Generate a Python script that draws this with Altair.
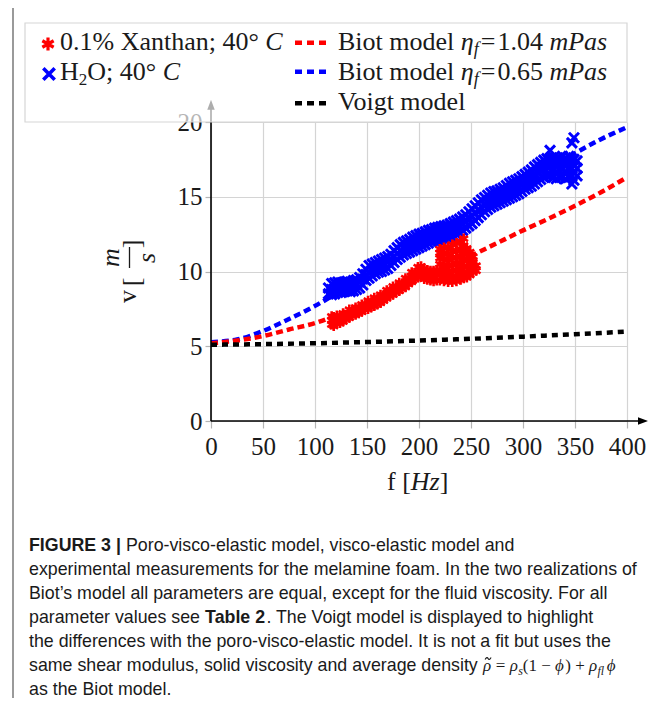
import altair as alt
import pandas as pd

# ---------------- data ----------------
model_f = [0, 25, 50, 75, 100, 125, 150, 175, 200, 225, 250, 275, 300, 325, 350, 375, 400]
biot_104 = [5.2, 5.38, 5.68, 6.12, 6.55, 7.2, 7.9, 8.65, 9.45, 10.25, 11.05, 11.9, 12.75, 13.55, 14.4, 15.3, 16.3]
biot_065 = [5.27, 5.45, 6.02, 6.82, 7.7, 8.7, 9.7, 10.7, 11.7, 12.7, 13.7, 14.7, 15.7, 16.75, 17.9, 18.85, 19.65]
voigt = [5.1, 5.12, 5.14, 5.17, 5.2, 5.24, 5.28, 5.33, 5.38, 5.44, 5.5, 5.57, 5.64, 5.72, 5.8, 5.89, 5.98]

# measurements: (f [Hz], [v values at that f])
xanthan_groups = [
    (116, [6.45, 6.75, 7.0]), (118, [6.35, 6.65, 6.95]), (121, [6.5, 6.8, 7.05]),
    (124, [6.55, 6.9]), (127, [6.65, 7.0, 7.2]), (130, [6.8, 7.1]),
    (133, [6.9, 7.2, 7.45]), (136, [7.05, 7.35]), (139, [7.1, 7.45, 7.6]),
    (142, [7.2, 7.55]), (145, [7.3, 7.6, 7.8]), (148, [7.45, 7.75]),
    (151, [7.5, 7.85, 8.05]), (154, [7.6, 7.95]), (157, [7.7, 8.0, 8.25]),
    (160, [7.8, 8.15]), (163, [7.9, 8.25, 8.45]), (166, [8.05, 8.4]),
    (169, [8.2, 8.55, 8.75]), (172, [8.35, 8.65]), (175, [8.45, 8.8, 9.0]),
    (178, [8.6, 8.95]), (181, [8.7, 9.05, 9.25]), (184, [8.85, 9.2]),
    (187, [8.95, 9.3, 9.55]), (190, [9.15, 9.55]), (193, [9.3, 9.7, 9.95]),
    (196, [9.5, 9.9]), (199, [9.6, 9.95, 10.3]), (202, [9.65, 10.05, 10.35]),
    (205, [9.5, 9.9, 10.2]), (208, [9.45, 9.8, 10.1]), (211, [9.4, 9.75, 10.05]),
    (214, [9.35, 9.7, 10.05]), (217, [9.4, 9.8, 10.1]),
    (220, [9.4, 9.75, 10.1, 10.5, 10.9, 11.25, 11.5]),
    (224, [9.35, 9.7, 10.05, 10.45, 10.85, 11.25, 11.6]),
    (228, [9.3, 9.65, 10.0, 10.4, 10.8, 11.2, 11.65]),
    (232, [9.3, 9.65, 10.05, 10.45, 10.9, 11.35, 11.8]),
    (236, [9.35, 9.7, 10.1, 10.5, 10.95, 11.4, 11.9]),
    (240, [9.45, 9.8, 10.2, 10.6, 11.05, 11.5, 12.0]),
    (243, [9.55, 9.9, 10.3, 10.75, 11.25, 11.75, 12.2]),
    (246, [9.6, 9.95, 10.35, 10.8, 11.2, 11.55]),
    (249, [9.75, 10.1, 10.5, 10.9, 11.3]),
    (252, [9.95, 10.3, 10.65, 11.0]),
    (255, [10.05, 10.4]),
]
water_groups = [
    (113, [8.5, 8.9]), (116, [8.45, 8.8, 9.2]), (119, [8.5, 8.85, 9.25]),
    (122, [8.6, 9.0, 9.3]), (125, [8.6, 8.95, 9.25]), (128, [8.65, 9.0, 9.3]),
    (131, [8.7, 9.05, 9.35]), (134, [8.65, 9.0, 9.3]), (137, [8.7, 9.05, 9.4]),
    (140, [8.8, 9.15, 9.45]), (143, [8.9, 9.3, 9.6]), (146, [9.1, 9.5, 9.85]),
    (149, [9.4, 9.8, 10.15]), (152, [9.55, 9.95, 10.4]), (155, [9.7, 10.1, 10.5]),
    (158, [9.85, 10.25, 10.6]), (161, [9.95, 10.35, 10.7]), (164, [10.0, 10.4, 10.8]),
    (167, [10.1, 10.5, 10.9]), (170, [10.2, 10.65, 11.0]), (173, [10.4, 10.8, 11.15]),
    (176, [10.6, 11.0, 11.4]), (179, [10.8, 11.2, 11.6]), (182, [10.95, 11.4, 11.8]),
    (185, [11.1, 11.55, 11.95]), (188, [11.2, 11.65, 12.05]), (191, [11.3, 11.75, 12.15]),
    (194, [11.4, 11.85, 12.3]), (197, [11.5, 11.95, 12.4]), (200, [11.6, 12.05, 12.5]),
    (203, [11.7, 12.15, 12.55]), (206, [11.8, 12.25, 12.65]), (209, [11.9, 12.35, 12.75]),
    (212, [12.0, 12.4, 12.8]), (215, [12.05, 12.45, 12.9]), (218, [12.1, 12.5, 12.95]),
    (221, [12.15, 12.6, 13.0]), (224, [12.2, 12.65, 13.05]), (227, [12.3, 12.7, 13.1]),
    (230, [12.35, 12.8, 13.2]), (233, [12.4, 12.85, 13.3]), (236, [12.5, 12.95, 13.4]),
    (239, [12.6, 13.05, 13.5]), (242, [12.75, 13.2, 13.65]), (245, [12.9, 13.35, 13.8]),
    (248, [13.05, 13.55, 14.0]), (251, [13.2, 13.7, 14.2]), (254, [13.4, 13.9, 14.4]),
    (257, [13.6, 14.1, 14.6]), (260, [13.8, 14.3, 14.8]), (263, [14.0, 14.45, 14.95]),
    (266, [14.15, 14.6, 15.1]), (269, [14.3, 14.75, 15.25]), (272, [14.4, 14.85, 15.35]),
    (275, [14.5, 14.95, 15.4]), (278, [14.6, 15.05, 15.5]), (281, [14.7, 15.15, 15.6]),
    (284, [14.8, 15.25, 15.75]), (287, [14.9, 15.4, 15.9]), (290, [15.0, 15.5, 16.0]),
    (293, [15.1, 15.6, 16.1]), (296, [15.2, 15.7, 16.2]), (299, [15.35, 15.85, 16.35]),
    (302, [15.5, 16.0, 16.5]), (305, [15.6, 16.1, 16.65]), (308, [15.7, 16.25, 16.8]),
    (311, [15.85, 16.4, 17.0]), (314, [16.0, 16.6, 17.15]), (317, [16.15, 16.75, 17.3]),
    (320, [16.3, 16.9, 17.45]), (323, [16.4, 17.0, 17.55]), (326, [16.4, 17.0, 17.5, 18.1]),
    (329, [16.3, 16.8, 17.3, 17.6]), (332, [16.2, 16.7, 17.2, 17.55]),
    (335, [16.3, 16.8, 17.3, 17.6]), (338, [16.35, 16.85, 17.3, 17.7]),
    (341, [16.2, 16.7, 17.2, 17.6]), (344, [16.3, 16.8, 17.3, 17.7]),
    (347, [15.85, 16.4, 16.9, 17.4, 18.6]), (349, [16.1, 16.6, 17.1, 17.5, 18.95]),
    (352, [16.4, 16.9, 17.4]),
]
x_ticks = [0, 50, 100, 150, 200, 250, 300, 350, 400]
y_ticks = [0, 5, 10, 15, 20]

legend_marks = ["0.1% Xanthan; 40°", "O; 40°"]
legend_lines = ["=1.04", "=0.65", "Voigt model"]
caption = [
    "experimental measurements for the melamine foam. In the two realizations of",
    "Biot\u2019s model all parameters are equal, except for the fluid viscosity. For all",
    "the differences with the poro-visco-elastic model. It is not a fit but uses the",
    "as the Biot model.",
]

# ---------------- helpers ----------------
SERIF = "Liberation Serif"
SANS = "Liberation Sans"
RED, BLUE, BLACK = "#ff0000", "#0000ff", "#000000"
TXT = "#1a1a1a"
OX, OY = 211, 122  # page position of the plot origin


def table(groups):
    t = {}
    for w, chars in groups:
        for c in chars:
            t[c] = w
    return t


TR = table([(250, " .,"), (278, ";:itl"), (333, "f[]()r-"), (389, "s"), (400, "°"),
            (444, "aecz"), (500, "0123456789bdghnopquvxy"), (564, "=+\u2212"), (556, "P"),
            (611, "E"), (667, "BC"), (722, "HOVX"), (778, "m"), (833, "%")])
TI = table([(250, " "), (278, "f"), (389, "sz"), (500, "a\u03b7\u03c1"), (600, "\u03d5"), (611, "P"),
            (667, "C"), (722, "Hm")])
AR = table([(278, " !,./:;I[]ft"), (222, "ijl\u2019"), (333, "()-r"), (500, "cksvxyzJ"),
            (556, "0123456789abdeghnopquL"), (584, "+=\u2212"), (611, "FTZ"), (667, "ABEKPSVXY"),
            (722, "CDHNRUw"), (778, "GOQ"), (833, "mM"), (889, "%"), (944, "W"), (260, "|")])
AB = table([(278, " .Il"), (556, "0123456789ae"), (611, "FTb"), (667, "E"), (722, "RUA"),
            (778, "G"), (280, "|")])


def width(s, size, tab):
    return sum(tab.get(c, 500) for c in s) / 1000.0 * size


one = pd.DataFrame({"k": [0]})


def rich(pieces, x0, yb, font, tables, color=TXT):
    out = []
    x = x0
    for p in pieces:
        if isinstance(p, (int, float)):
            x += p
            continue
        text, style, size, dy = p
        tab = tables[style]
        lead = len(text) - len(text.lstrip(" "))
        shown = text.strip(" ")
        kw = dict(font=font, fontSize=size, align="left", baseline="alphabetic", color=color)
        if style == "i":
            kw["fontStyle"] = "italic"
        if style == "b":
            kw["fontWeight"] = "bold"
        out.append(alt.Chart(one).mark_text(**kw).encode(
            x=alt.value(x + width(" " * lead, size, tab) - OX),
            y=alt.value(yb + dy - OY),
            text=alt.value(shown)))
        x += width(text, size, tab)
    return out


def label(s, x, y, size, font=SERIF, style="normal", angle=0, align="center", baseline="middle"):
    kw = dict(font=font, fontSize=size, fontStyle=style, align=align, baseline=baseline, color=TXT)
    if angle:
        kw["angle"] = angle
    return alt.Chart(one).mark_text(**kw).encode(
        x=alt.value(x - OX), y=alt.value(y - OY), text=alt.value(s))


def hrule(x1, x2, y, color, w, dash=None):
    kw = dict(color=color, strokeWidth=w, strokeCap="butt")
    if dash:
        kw["strokeDash"] = dash
    return alt.Chart(one).mark_rule(**kw).encode(
        x=alt.value(x1 - OX), x2=alt.value(x2 - OX), y=alt.value(y - OY))


def vrule(x, y1, y2, color, w):
    return alt.Chart(one).mark_rule(color=color, strokeWidth=w, strokeCap="butt").encode(
        x=alt.value(x - OX), y=alt.value(y1 - OY), y2=alt.value(y2 - OY))


# ---------------- tables ----------------
lines_df = pd.DataFrame({"f": model_f, "b104": biot_104, "b065": biot_065, "voigt": voigt})
red_df = pd.DataFrame([{"f": f, "v": v} for f, vs in xanthan_groups for v in vs])
blue_df = pd.DataFrame([{"f": f, "v": v} for f, vs in water_groups for v in vs])

xs = alt.Scale(domain=[0, 400], nice=False, zero=False)
ys = alt.Scale(domain=[0, 20], nice=False, zero=False)
ax_common = dict(grid=True, gridColor="#d4d4d4", gridWidth=1.2, domain=False,
                 tickColor="#b4b4b4", tickWidth=1.2, labelFont=SERIF, labelFontSize=25,
                 labelColor=TXT, labelFlush=False, labelOverlap=False, zindex=0)
xaxis = alt.Axis(values=x_ticks, tickSize=7, labelPadding=6, labelAngle=0, **ax_common)
yaxis = alt.Axis(values=y_ticks, tickSize=6, labelPadding=3, **ax_common)


def X(field="f"):
    return alt.X(f"{field}:Q", scale=xs, axis=xaxis, title="")


def Y(field):
    return alt.Y(f"{field}:Q", scale=ys, axis=yaxis, title="")


XPATH = "M-1,-1L1,1M-1,1L1,-1"
ASTER = "M0,-1L0,1M-0.866,-0.5L0.866,0.5M-0.866,0.5L0.866,-0.5"
TILDE = "M-1,0.35C-0.6,-0.45,-0.2,-0.45,0,0C0.2,0.45,0.6,0.45,1,-0.35"
DASH = [7, 4]

layers = []
for col, colr in [("b065", BLUE), ("b104", RED)]:
    layers.append(alt.Chart(lines_df).mark_line(color=colr, strokeWidth=4.5, strokeDash=DASH,
                                                strokeCap="butt", interpolate="monotone")
                  .encode(x=X(), y=Y(col)))
layers.append(alt.Chart(blue_df).mark_point(shape=XPATH, filled=False, size=100, strokeWidth=3,
                                            color=BLUE, opacity=1).encode(x=X(), y=Y("v")))
layers.append(alt.Chart(red_df).mark_point(shape=ASTER, filled=False, size=100, strokeWidth=2.6,
                                           color=RED, opacity=1).encode(x=X(), y=Y("v")))
layers.append(alt.Chart(lines_df).mark_line(color=BLACK, strokeWidth=4.5, strokeDash=[6, 5],
                                            strokeCap="butt", interpolate="monotone")
              .encode(x=X(), y=Y("voigt")))

# axis lines with arrow heads (data coordinates)
xline = pd.DataFrame({"f": [0], "f2": [412], "v": [0]})
yline = pd.DataFrame({"f": [0], "v": [0], "v2": [20.9]})
layers.append(alt.Chart(xline).mark_rule(color=BLACK, strokeWidth=1.6).encode(
    x=X(), x2="f2:Q", y=Y("v")))
layers.append(alt.Chart(yline).mark_rule(color=BLACK, strokeWidth=1.6).encode(
    x=X(), y=Y("v"), y2="v2:Q"))
layers.append(alt.Chart(pd.DataFrame({"f": [415.4], "v": [0]})).mark_point(
    shape="M-1,-0.75L1,0L-1,0.75Z", filled=True, size=100, color=BLACK, opacity=1).encode(x=X(), y=Y("v")))
layers.append(alt.Chart(pd.DataFrame({"f": [0], "v": [21.15]})).mark_point(
    shape="M-0.75,1L0,-1L0.75,1Z", filled=True, size=100, color=BLACK, opacity=1).encode(x=X(), y=Y("v")))

# legend box
layers.append(alt.Chart(one).mark_rect(fill="#ffffff", fillOpacity=0.68, stroke="#d6d6d6",
                                       strokeWidth=1.2).encode(
    x=alt.value(25 - OX), x2=alt.value(627 - OX), y=alt.value(23 - OY), y2=alt.value(122 - OY)))

# legend symbols
layers.append(alt.Chart(one).mark_point(shape=ASTER, filled=False, size=170, strokeWidth=3.2,
                                        color=RED, opacity=1).encode(
    x=alt.value(48 - OX), y=alt.value(44 - OY)))
layers.append(alt.Chart(one).mark_point(shape=XPATH, filled=False, size=130, strokeWidth=3.6,
                                        color=BLUE, opacity=1).encode(
    x=alt.value(49 - OX), y=alt.value(74 - OY)))
for yy, colr in [(42.7, RED), (71.7, BLUE), (103.3, BLACK)]:
    layers.append(hrule(295, 328, yy, colr, 4.5, [7, 5]))

LT = 26
ser = {"r": TR, "i": TI}
layers += rich([(legend_marks[0] + " ", "r", LT, 0), ("C", "i", LT, 0)], 60, 50, SERIF, ser)
layers += rich([("H", "r", LT, 0), ("2", "r", 17, 5), (legend_marks[1] + " ", "r", LT, 0),
                ("C", "i", LT, 0)], 60, 80, SERIF, ser)
for yb, val in [(50, legend_lines[0]), (80, legend_lines[1])]:
    layers += rich([("Biot model ", "r", LT, 0), ("\u03b7", "i", LT, 0), ("f", "i", 18, 5), 2,
                    (val[0], "r", LT, 0), 2, (val[1:] + " ", "r", LT, 0), ("mPas", "i", LT, 0)],
                   338, yb, SERIF, ser)
layers += rich([(legend_lines[2], "r", LT, 0)], 338, 110, SERIF, ser)

# axis titles
layers += rich([("f [", "r", LT, 0), ("Hz", "i", LT, 0), ("]", "r", LT, 0)], 387, 490, SERIF, ser)
layers.append(label("v", 127.5, 296.5, LT, angle=270))
layers.append(label("[", 131.5, 282, LT, angle=270))
layers.append(label("]", 131.5, 244, LT, angle=270))
layers.append(label("m", 111, 257.5, LT, style="italic", angle=270))
layers.append(label("s", 147, 258, LT, style="italic", angle=270))
layers.append(vrule(129.5, 247, 268, TXT, 1.3))

# caption
CS = 17.8
san = {"r": AR, "b": AB, "i": AR}
mth = {"r": TR, "i": TI}
base = [551 + 24 * i for i in range(7)]
layers += rich([("FIGURE 3 |", "b", CS, 0), (" Poro-visco-elastic model, visco-elastic model and", "r", CS, 0)],
               29, base[0], SANS, san)
layers += rich([(caption[0], "r", CS, 0)], 29, base[1], SANS, san)
layers += rich([(caption[1], "r", CS, 0)], 29, base[2], SANS, san)
layers += rich([("parameter values see ", "r", CS, 0), ("Table 2", "b", CS, 0),
                (". The Voigt model is displayed to highlight", "r", CS, 0)], 29, base[3], SANS, san)
layers += rich([(caption[2], "r", CS, 0)], 29, base[4], SANS, san)
pre6 = "same shear modulus, solid viscosity and average density "
layers += rich([(pre6, "r", CS, 0)], 29, base[5], SANS, san)
x6 = 29 + width(pre6, CS, AR)
# tilde accent over the first rho, drawn as a small stroke symbol
layers.append(alt.Chart(one).mark_point(shape=TILDE, filled=False, size=36, strokeWidth=1.1,
                                        color=TXT, opacity=1).encode(
    x=alt.value(x6 + 5 - OX), y=alt.value(base[5] - 12.5 - OY)))
layers += rich([("\u03c1", "i", 17, 0), (" = ", "r", 17, 0), ("\u03c1", "i", 17, 0), ("s", "i", 12, 4),
                ("(1 \u2212 ", "r", 17, 0), ("\u03d5", "i", 17, 0), (") + ", "r", 17, 0),
                ("\u03c1", "i", 17, 0), ("fl", "i", 12, 4), ("\u03d5", "i", 17, 0)],
               x6, base[5], SERIF, mth)
layers += rich([(caption[3], "r", CS, 0)], 29, base[6], SANS, san)

# figure frame
layers.append(hrule(13, 652, 6, "#808080", 2))
layers.append(vrule(13, 6, 698, "#9a9a9a", 2))

chart = alt.layer(*layers).properties(
    width=416, height=299,
    autosize=alt.AutoSizeParams(type="none"),
    padding={"left": 203, "top": 114, "right": 25, "bottom": 277},
    background="#ffffff",
).configure_view(stroke=None)

chart.save("out.html", embed_options={"renderer": "svg", "actions": False})
